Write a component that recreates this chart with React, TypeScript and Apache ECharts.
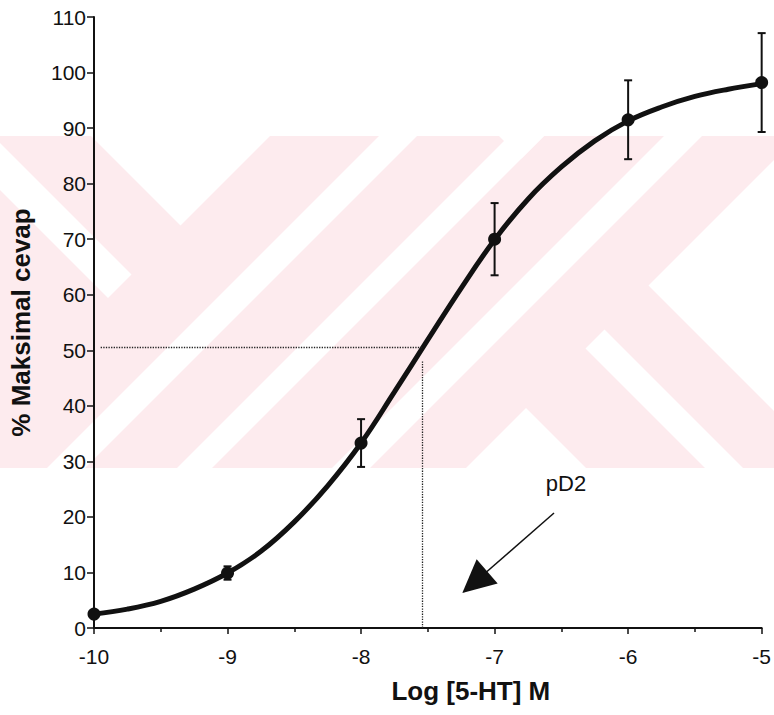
import React, { useEffect, useRef } from "react";
import * as echarts from "echarts";

// ---- data ----
const doseLog = [-10, -9, -8, -7, -6, -5];
const responseMean = [2.5, 9.9, 33.3, 70.0, 91.5, 98.2];
const responseErr = [0.5, 1.2, 4.3, 6.5, 7.1, 8.9];

// fitted curve
const curveX = [-10, -9.75, -9.5, -9.25, -9, -8.75, -8.5, -8.25, -8, -7.75, -7.5, -7.25, -7, -6.75, -6.5, -6.25, -6, -5.75, -5.5, -5.25, -5];
const curveY = [2.5, 3.4, 4.8, 7.0, 9.9, 13.8, 19.1, 25.6, 33.3, 42.5, 51.9, 61.2, 69.9, 77.2, 83.0, 87.7, 91.3, 93.8, 95.7, 97.0, 98.0];

const pD2 = -7.54;
const halfLevel = 50.5;

// annotation: label position and arrow (data coordinates)
const annotLabel = { text: "pD2", x: -6.465, y: 26.1 };
const arrowFrom = [-6.555, 20.7];
const arrowTip = [-7.242, 6.3];

const xTicks = { min: -10, max: -5, interval: 1 };
const yTicks = { min: 0, max: 110, interval: 10 };

const FONT = "'Liberation Sans', Arial, Helvetica, sans-serif";
const INK = "#111111";
const PINK = "#fdebee";

// ---- watermark geometry helpers (page-level background, not data) ----
type Pt = [number, number];
const BAND: Pt[] = [[0, 136], [774, 136], [774, 468], [0, 468]];
function clip(poly: Pt[], a: number, b: number, c: number): Pt[] {
  const out: Pt[] = [];
  const n = poly.length;
  for (let i = 0; i < n; i++) {
    const cur = poly[i];
    const prev = poly[(i - 1 + n) % n];
    const fc = a * cur[0] + b * cur[1] - c;
    const fp = a * prev[0] + b * prev[1] - c;
    const inter = (): Pt => {
      const t = fp / (fp - fc);
      return [prev[0] + t * (cur[0] - prev[0]), prev[1] + t * (cur[1] - prev[1])];
    };
    if (fc <= 0) {
      if (fp > 0) out.push(inter());
      out.push(cur);
    } else if (fp <= 0) {
      out.push(inter());
    }
  }
  return out;
}
function region(u?: [number, number], v?: [number, number]): Pt[] {
  let p = BAND.slice();
  if (u) {
    p = clip(p, -1, -1, -u[0]);
    p = clip(p, 1, 1, u[1]);
  }
  if (v) {
    p = clip(p, 1, -1, -v[0]);
    p = clip(p, -1, 1, v[1]);
  }
  return p;
}
const INF = 1e5;
const whiteRegions: Pt[][] = [
  region([-INF, 406], [-INF, 45]),
  region([-INF, 406], [143, 190]),
  region([-INF, 680], [-INF, -363]),
  region([934, INF], [-INF, -363]),
  region([934, INF], [-275, -237]),
  region([934, INF], [-118, INF]),
  region([515, 553]),
  region([645, 680]),
  region([800, 838]),
];

export default function App() {
  const ref = useRef<HTMLDivElement>(null);
  useEffect(() => {
    document.body.style.margin = "0";
    if (!ref.current) return;
    const chart = echarts.init(ref.current, undefined, { renderer: "svg" });

    const graphic: any[] = [
      { type: "rect", z: -10, silent: true, shape: { x: 0, y: 136, width: 774, height: 332 }, style: { fill: PINK } },
      ...whiteRegions
        .filter((p) => p.length >= 3)
        .map((p) => ({ type: "polygon", z: -9, silent: true, shape: { points: p }, style: { fill: "#ffffff" } })),
    ];

    const option: any = {
      animation: false,
      backgroundColor: "#ffffff",
      graphic,
      grid: { left: 94, right: 10, top: 17, bottom: 87, containLabel: false },
      xAxis: {
        type: "value",
        min: xTicks.min,
        max: xTicks.max,
        interval: xTicks.interval,
        name: "Log [5-HT] M",
        nameLocation: "middle",
        nameGap: 50,
        nameTextStyle: { fontFamily: FONT, fontSize: 26, fontWeight: "bold", color: INK, padding: [0, 0, 0, 86] },
        axisLine: { show: true, onZero: false, lineStyle: { color: INK, width: 2 } },
        axisTick: { show: true, length: 6, lineStyle: { color: INK, width: 1.5 } },
        minorTick: { show: true, splitNumber: 2, length: 4, lineStyle: { color: INK, width: 1.5 } },
        axisLabel: { fontFamily: FONT, fontSize: 21, color: INK, margin: 18 },
        splitLine: { show: false },
      },
      yAxis: {
        type: "value",
        min: yTicks.min,
        max: yTicks.max,
        interval: yTicks.interval,
        name: "% Maksimal cevap",
        nameLocation: "middle",
        nameGap: 60,
        nameTextStyle: { fontFamily: FONT, fontSize: 26, fontWeight: "bold", color: INK },
        axisLine: { show: true, lineStyle: { color: INK, width: 2 } },
        axisTick: { show: true, length: 7, lineStyle: { color: INK, width: 1.5 } },
        axisLabel: { fontFamily: FONT, fontSize: 21, color: INK, margin: 8 },
        splitLine: { show: false },
      },
      series: [
        {
          type: "line",
          name: "fit",
          data: curveX.map((x, i) => [x, curveY[i]]),
          smooth: 0.4,
          showSymbol: false,
          lineStyle: { color: INK, width: 5 },
          z: 3,
          markLine: {
            silent: true,
            symbol: ["none", "none"],
            label: { show: false },
            lineStyle: { color: "#222222", width: 1.3, type: "dotted" },
            data: [
              [{ coord: [-9.95, halfLevel] }, { coord: [pD2, halfLevel] }],
              [{ coord: [pD2, 48] }, { coord: [pD2, 0] }],
            ],
          },
        },
        {
          type: "custom",
          name: "sem",
          data: doseLog.map((x, i) => [x, responseMean[i] - responseErr[i], responseMean[i] + responseErr[i]]),
          renderItem: (params: any, api: any) => {
            const x = api.value(0);
            const lo = api.coord([x, api.value(1)]);
            const hi = api.coord([x, api.value(2)]);
            const cap = 4;
            const style = { stroke: INK, lineWidth: 2 };
            return {
              type: "group",
              children: [
                { type: "line", shape: { x1: lo[0], y1: lo[1], x2: hi[0], y2: hi[1] }, style },
                { type: "line", shape: { x1: lo[0] - cap, y1: lo[1], x2: lo[0] + cap, y2: lo[1] }, style },
                { type: "line", shape: { x1: hi[0] - cap, y1: hi[1], x2: hi[0] + cap, y2: hi[1] }, style },
              ],
            };
          },
          z: 4,
        },
        {
          type: "scatter",
          name: "mean",
          data: doseLog.map((x, i) => [x, responseMean[i]]),
          symbol: "circle",
          symbolSize: 13,
          itemStyle: { color: INK, opacity: 1 },
          z: 5,
        },
        {
          type: "custom",
          name: "annotation",
          data: [[arrowFrom[0], arrowFrom[1], arrowTip[0], arrowTip[1], annotLabel.x, annotLabel.y]],
          renderItem: (params: any, api: any) => {
            const a = api.coord([api.value(0), api.value(1)]);
            const t = api.coord([api.value(2), api.value(3)]);
            const lp = api.coord([api.value(4), api.value(5)]);
            const dx = t[0] - a[0];
            const dy = t[1] - a[1];
            const len = Math.sqrt(dx * dx + dy * dy);
            const ux = dx / len;
            const uy = dy / len;
            const headLen = 33;
            const half = 16;
            const bx = t[0] - ux * headLen;
            const by = t[1] - uy * headLen;
            return {
              type: "group",
              children: [
                { type: "line", shape: { x1: a[0], y1: a[1], x2: bx + ux * 4, y2: by + uy * 4 }, style: { stroke: INK, lineWidth: 1.5 } },
                {
                  type: "polygon",
                  shape: { points: [[t[0], t[1]], [bx - uy * half, by + ux * half], [bx + uy * half, by - ux * half]] },
                  style: { fill: INK },
                },
                {
                  type: "text",
                  x: lp[0],
                  y: lp[1],
                  style: { text: annotLabel.text, fill: INK, font: `22px ${FONT}`, align: "center", verticalAlign: "middle" },
                },
              ],
            };
          },
          z: 5,
        },
      ],
    };
    chart.setOption(option);
    return () => chart.dispose();
  }, []);
  return <div ref={ref} style={{ position: "absolute", left: 0, top: 0, width: 774, height: 715 }} />;
}
